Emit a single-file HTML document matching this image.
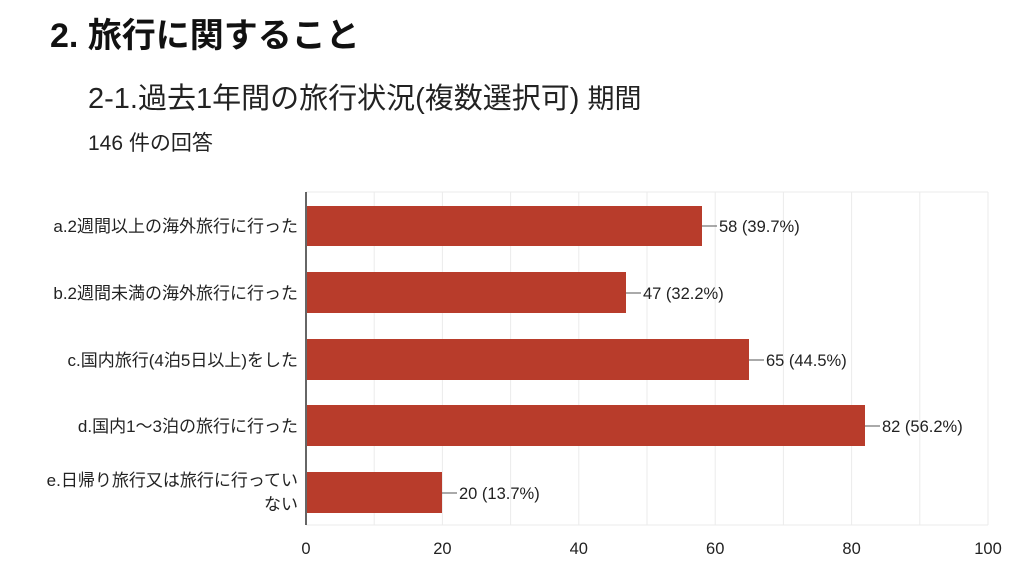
<!DOCTYPE html><html><head><meta charset="utf-8"><style>
body{margin:0;background:#fff;width:1024px;height:576px;overflow:hidden}
text{font-family:"Liberation Sans","Noto Sans CJK JP",sans-serif}
</style></head><body>
<svg width="1024" height="576" xmlns="http://www.w3.org/2000/svg">
<text x="50" y="47" font-size="34" font-weight="bold" fill="#111">2. 旅行に関すること</text>
<text x="88" y="108" font-size="29" fill="#222">2-1.過去1年間の旅行状況(複数選択可) <tspan font-size="27">期間</tspan></text>
<text x="88" y="150" font-size="21" fill="#222">146 件の回答</text>
<g stroke="#ebebeb" stroke-width="1">
<line x1="374.2" y1="192" x2="374.2" y2="525"/><line x1="442.4" y1="192" x2="442.4" y2="525"/><line x1="510.6" y1="192" x2="510.6" y2="525"/><line x1="578.8" y1="192" x2="578.8" y2="525"/><line x1="647" y1="192" x2="647" y2="525"/><line x1="715.2" y1="192" x2="715.2" y2="525"/><line x1="783.4" y1="192" x2="783.4" y2="525"/><line x1="851.6" y1="192" x2="851.6" y2="525"/><line x1="919.8" y1="192" x2="919.8" y2="525"/><line x1="988" y1="192" x2="988" y2="525"/>
<line x1="306" y1="192" x2="988" y2="192"/><line x1="306" y1="525" x2="988" y2="525"/>
</g>
<g fill="#b83c2b">
<rect x="307" y="206" width="395" height="40"/>
<rect x="307" y="272" width="319" height="41"/>
<rect x="307" y="339" width="442" height="41"/>
<rect x="307" y="405" width="558" height="41"/>
<rect x="307" y="472" width="135" height="41"/>
</g>
<line x1="306" y1="192" x2="306" y2="525" stroke="#333" stroke-width="1.5"/>
<g stroke="#555" stroke-width="1">
<line x1="702" y1="226" x2="717" y2="226"/><line x1="626" y1="293" x2="641" y2="293"/><line x1="749" y1="360" x2="764" y2="360"/><line x1="865" y1="426" x2="880" y2="426"/><line x1="442" y1="493" x2="457" y2="493"/>
</g>
<g font-size="16.5" fill="#222">
<text x="719" y="232">58 (39.7%)</text>
<text x="643" y="299">47 (32.2%)</text>
<text x="766" y="366">65 (44.5%)</text>
<text x="882" y="432">82 (56.2%)</text>
<text x="459" y="499">20 (13.7%)</text>
</g>
<g font-size="17" fill="#222" text-anchor="end">
<text x="298" y="232">a.2週間以上の海外旅行に行った</text>
<text x="298" y="299">b.2週間未満の海外旅行に行った</text>
<text x="298" y="366">c.国内旅行(4泊5日以上)をした</text>
<text x="298" y="432">d.国内1〜3泊の旅行に行った</text>
<text x="298" y="486">e.日帰り旅行又は旅行に行ってい</text>
<text x="298" y="510">ない</text>
</g>
<g font-size="16.5" fill="#222" text-anchor="middle">
<text x="306" y="554">0</text><text x="442.4" y="554">20</text><text x="578.8" y="554">40</text><text x="715.2" y="554">60</text><text x="851.6" y="554">80</text><text x="988" y="554">100</text>
</g>
</svg>
</body></html>
